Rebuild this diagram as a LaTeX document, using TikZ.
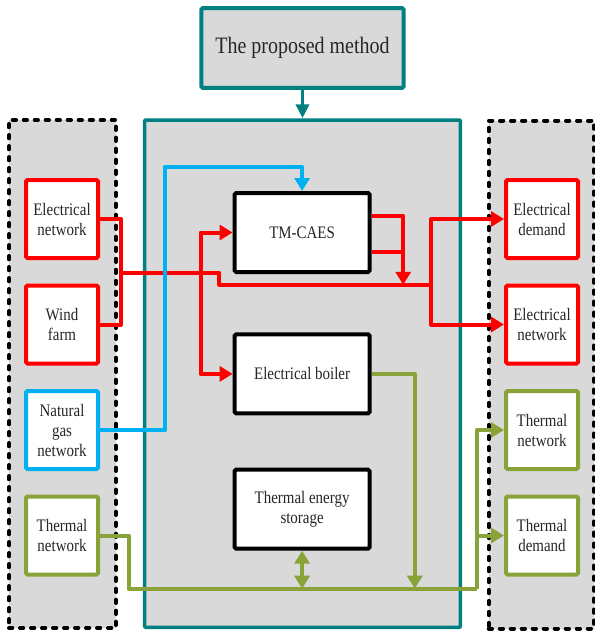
\documentclass[tikz,border=0pt]{standalone}
\usepackage{fontspec}
\setmainfont[FakeStretch=0.85]{Liberation Serif}
\usetikzlibrary{arrows.meta}
\definecolor{tealc}{RGB}{0,128,128}
\definecolor{redc}{RGB}{255,0,0}
\definecolor{bluec}{RGB}{0,176,240}
\definecolor{greenc}{RGB}{137,163,56}
\definecolor{grayfill}{RGB}{217,217,217}
\begin{document}
\begin{tikzpicture}[x=1pt,y=-1pt,
  lbl/.style={font=\fontsize{17.6}{20}\selectfont, align=center, text=black!85},
  sidebox/.style={lbl, draw, fill=white, line width=4pt, minimum width=72pt, minimum height=78pt, inner sep=0pt, rounded corners=1.5pt},
  redbox/.style={sidebox, draw=redc},
  bluebox/.style={sidebox, draw=bluec},
  greenbox/.style={sidebox, draw=greenc},
  corebox/.style={lbl, draw=black, fill=white, line width=4pt, minimum width=135pt, minimum height=79pt, inner sep=0pt, rounded corners=1.5pt},
  grp/.style={draw=black, fill=grayfill, line width=4pt, dash pattern=on 3.3pt off 7.7pt, line cap=round, inner sep=0pt},
  conn/.style={line width=4pt, line join=round},
  redl/.style={conn, draw=redc},
  bluel/.style={conn, draw=bluec},
  greenl/.style={conn, draw=greenc},
  arr/.style={-{Triangle[length=13pt,width=15pt]}},
  darr/.style={{Triangle[length=13pt,width=15pt]}-{Triangle[length=13pt,width=15pt]}}
]
\useasboundingbox (0,0) rectangle (595,633);

% containers
\node[grp, minimum width=107pt, minimum height=508pt] (lgrp) at (62.5,374) {};
\node[grp, minimum width=105.3pt, minimum height=508pt] (rgrp) at (541.35,374.5) {};
\node[draw=tealc, fill=grayfill, line width=3.5pt, minimum width=315.6pt, minimum height=507.3pt, inner sep=0pt, rounded corners=1pt] (core) at (302.5,373.65) {};

% title
\node[lbl, font=\fontsize{23.5}{26}\selectfont, draw=tealc, fill=grayfill, line width=4pt, minimum width=202.4pt, minimum height=79.7pt, inner sep=0pt, rounded corners=1.5pt] (title) at (302.5,48) {The proposed method};
\draw[conn, draw=tealc, line width=3.5pt, -{Triangle[length=14pt,width=13pt]}] (title.south) -- (core.north);

% left column
\node[redbox] (enl) at (62,219) {Electrical\\network};
\node[redbox] (wf) at (62,324.5) {Wind\\farm};
\node[bluebox] (ng) at (62,430) {Natural\\gas\\network};
\node[greenbox] (tnl) at (62,535.5) {Thermal\\network};

% right column
\node[redbox] (ed) at (542,219) {Electrical\\demand};
\node[redbox] (enr) at (542,324.5) {Electrical\\network};
\node[greenbox] (tnr) at (542,430) {Thermal\\network};
\node[greenbox] (td) at (542,535.5) {Thermal\\demand};

% centre
\node[corebox] (tm) at (302.1,232.5) {TM-CAES};
\node[corebox] (eb) at (302.1,373.9) {Electrical boiler};
\node[corebox] (tes) at (302.1,509.2) {Thermal energy\\storage};

% junction coordinates
\coordinate (bus) at (121.3,272.8);
\coordinate (rj) at (431.3,284.8);
\coordinate (rt) at (403.2,284.8);
\coordinate (gj) at (477.2,588.7);
\coordinate (gl) at (128.7,588.7);

% red connectors
\draw[redl] (enl.east) -| (bus) |- (wf.east);
\draw[redl] (bus) -- (219.3,272.8) -- (219.3,284.8) -- (rj);
\draw[redl, arr] (rj) |- (ed.west);
\draw[redl, arr] (rj) |- (enr.west);
\draw[redl, arr] (200.5,373.9) |- (tm.west);
\draw[redl, arr] (200.5,232.5) |- (eb.west);
\draw[redl] ([yshift=-19pt]tm.east) -- (rt |- 0,251.5);
\draw[redl, arr] ([yshift=16.3pt]tm.east) -| (rt);

% blue connector
\draw[bluel, arr] (ng.east) -| (165.3,167) -| (tm.north);

% green connectors
\draw[greenl] (tnl.east) -| (gl) -- (gj);
\draw[greenl, arr] (gj) |- (tnr.west);
\draw[greenl, arr] (gj |- td.west) -- (td.west);
\draw[greenl, arr] (eb.east) -| (414.8,588.7);
\draw[greenl, darr] (tes.south) -- (tes.south |- gj);
\end{tikzpicture}
\end{document}
